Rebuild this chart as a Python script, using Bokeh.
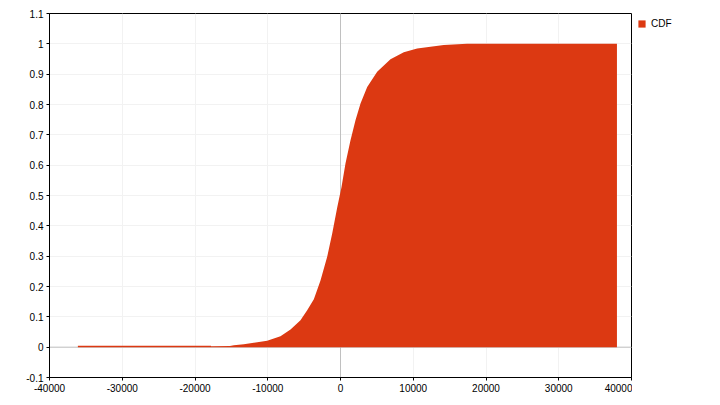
from bokeh.plotting import figure
from bokeh.layouts import row
from bokeh.models import Span, Legend, LegendItem, FixedTicker
from bokeh.embed import file_html
from bokeh.resources import INLINE

# Data
cdf_x = [-36100, -17800, -17790, -15200, -14660, -13290, -11920, -10080, -8250,
         -6870, -5500, -4580, -3665, -2750, -1830, -1140, -460, 140, 690, 1375,
         2060, 2750, 3670, 5040, 6870, 8700, 10540, 12370, 14200, 17400, 38000]
cdf_y = [0.0044, 0.0044, 0.0030, 0.0035, 0.0060, 0.010, 0.0143, 0.021, 0.036,
         0.058, 0.089, 0.122, 0.158, 0.22, 0.298, 0.375, 0.46, 0.528, 0.606, 0.682,
         0.748, 0.803, 0.858, 0.908, 0.949, 0.972, 0.985, 0.99, 0.996, 1.0, 1.0]
series_name = "CDF"

x_ticks = [-40000, -30000, -20000, -10000, 0, 10000, 20000, 30000, 40000]
x_tick_labels = ["-40000", "-30000", "-20000", "-10000", "0", "10000", "20000", "30000", "40000"]
y_ticks = [-0.1, 0, 0.1, 0.2, 0.3, 0.4, 0.5, 0.6, 0.7, 0.8, 0.9, 1.0, 1.1]
y_tick_labels = ["-0.1", "0", "0.1", "0.2", "0.3", "0.4", "0.5", "0.6", "0.7", "0.8", "0.9", "1", "1.1"]

FILL = "#DC3912"
FONT = "Liberation Sans"
H = 397

p = figure(width=632, height=H, x_range=(-40000, 40000), y_range=(-0.1, 1.1),
           output_backend="svg", toolbar_location=None,
           min_border_left=49, min_border_right=1, min_border_top=13, min_border_bottom=20)

p.outline_line_color = "black"
p.outline_line_width = 1

for ax in (p.xaxis[0], p.yaxis[0]):
    ax.axis_line_color = "black"
    ax.major_tick_line_color = "black"
    ax.major_tick_out = 3
    ax.major_tick_in = 0
    ax.minor_tick_line_color = None
    ax.major_label_text_font = FONT
    ax.major_label_text_font_size = "10px"
    ax.major_label_text_color = "black"
    ax.major_label_standoff = 3

p.xaxis[0].ticker = FixedTicker(ticks=x_ticks)
p.xaxis[0].major_label_overrides = {t: l for t, l in zip(x_ticks, x_tick_labels)}
p.yaxis[0].ticker = FixedTicker(ticks=y_ticks)
p.yaxis[0].major_label_overrides = {t: l for t, l in zip(y_ticks, y_tick_labels)}

p.xgrid.grid_line_color = "#f2f2f2"
p.ygrid.grid_line_color = "#f2f2f2"

p.add_layout(Span(location=0, dimension="width", line_color="#c0c0c0", line_width=1, level="underlay"))
p.add_layout(Span(location=0, dimension="height", line_color="#c0c0c0", line_width=1, level="underlay"))

p.varea(x=cdf_x, y1=0, y2=cdf_y, fill_color=FILL, fill_alpha=1.0)

# Separate narrow figure holding the legend (to the right of the plot area).
# The same series is drawn there out of view, only to feed the legend swatch.
lg = figure(width=80, height=H, x_range=(1e6, 1e6 + 1), y_range=(0, 1),
            output_backend="svg", toolbar_location=None,
            x_axis_type=None, y_axis_type=None,
            min_border_left=0, min_border_right=0, min_border_top=0, min_border_bottom=0)
lg.outline_line_color = None
lg.xgrid.visible = False
lg.ygrid.visible = False
swatch = lg.varea(x=cdf_x, y1=0, y2=cdf_y, fill_color=FILL, fill_alpha=1.0)

legend = Legend(items=[LegendItem(label=series_name, renderers=[swatch])],
                location="top_left", orientation="vertical",
                padding=0, margin=5, spacing=0,
                glyph_width=9, glyph_height=9, label_height=9, label_standoff=5,
                label_text_font=FONT, label_text_font_size="10px",
                label_text_color="black", border_line_color=None,
                background_fill_alpha=0)
lg.add_layout(legend, "center")

layout = row(p, lg, spacing=0)
open("out.html", "w").write(file_html(layout, INLINE))
